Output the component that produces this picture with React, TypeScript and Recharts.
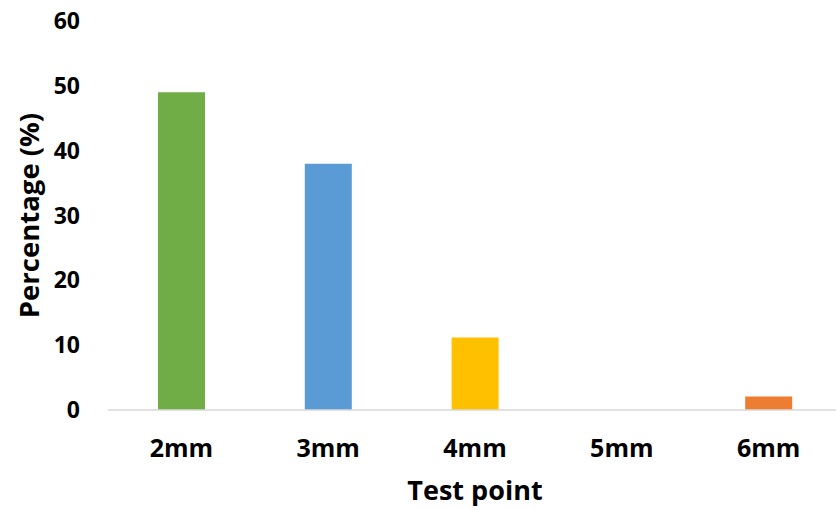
import { Bar, BarChart, Cell, Label, XAxis, YAxis } from 'recharts';

const categories = ['2mm', '3mm', '4mm', '5mm', '6mm'];
const percentages = [49, 38, 11.2, 0, 2.1];
const barColors = ['#70AD47', '#5B9BD5', '#FFC000', '#A5A5A5', '#ED7D31'];
const yTicks = [0, 10, 20, 30, 40, 50, 60];

const data = categories.map((name, i) => ({ name, value: percentages[i] }));

const font = '"Open Sans", sans-serif';

export default function App() {
  return (
    <div style={{ position: 'absolute', left: 0, top: 0, width: 836, height: 510, overflow: 'hidden', background: '#fff' }}>
      <BarChart width={842} height={510} data={data} margin={{ top: 21, right: 0, left: 8, bottom: 0 }}>
        <XAxis
          dataKey="name"
          height={100}
          axisLine={{ stroke: '#d9d9d9', strokeWidth: 1.5 }}
          tickLine={false}
          tickMargin={23}
          tick={{ fill: '#000', fontSize: 25, fontWeight: 700, fontFamily: font }}
        >
          <Label
            value="Test point"
            position="insideBottom"
            offset={10}
            style={{ fill: '#000', fontSize: 27, fontWeight: 700, fontFamily: font }}
          />
        </XAxis>
        <YAxis
          width={100}
          domain={[0, 60]}
          ticks={yTicks}
          axisLine={false}
          tickLine={false}
          tickMargin={22}
          tick={{ fill: '#000', fontSize: 23, fontWeight: 700, fontFamily: font }}
        >
          <Label
            value="Percentage (%)"
            angle={-90}
            position="insideLeft"
            offset={21}
            style={{ textAnchor: 'middle', fill: '#000', fontSize: 27.5, fontWeight: 700, fontFamily: font }}
          />
        </YAxis>
        <Bar dataKey="value" barSize={47} isAnimationActive={false}>
          {data.map((d, i) => (
            <Cell key={d.name} fill={barColors[i]} />
          ))}
        </Bar>
      </BarChart>
    </div>
  );
}
